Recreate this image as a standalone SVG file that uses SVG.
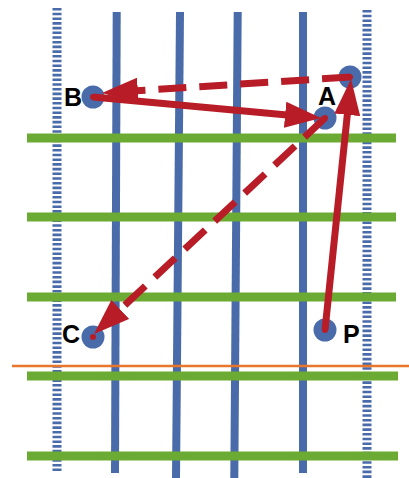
<svg xmlns="http://www.w3.org/2000/svg" width="409" height="478" viewBox="0 0 409 478">
<style>
.bl{stroke:#4A6BAA;stroke-width:8;fill:none}
.dot{stroke:#4A6BAA;stroke-width:9;stroke-dasharray:2.6 2.1;fill:none}
.gr{stroke:#6BAA33;stroke-width:9;fill:none}
.or{stroke:#E8762B;stroke-width:2.5;fill:none}
.nd{fill:#4A6BAA}
.cd{fill:#B81C26}
.ar{stroke:#B81C26;stroke-width:7;fill:none;marker-end:url(#ah)}
.da{stroke-dasharray:28 13}
.lb{font-family:"Liberation Sans",Arial,sans-serif;font-weight:bold;font-size:25px;fill:#000}
</style>
<defs>
<marker id="ah" markerUnits="userSpaceOnUse" viewBox="0 0 36 26" markerWidth="36" markerHeight="26" refX="2" refY="13" orient="auto">
<path d="M0,0 L36,13 L0,26 z" fill="#B81C26"/>
</marker>
</defs>
<g id="grid">
<line class="dot" x1="57" y1="8" x2="57" y2="471"/>
<line class="dot" x1="367" y1="10" x2="367" y2="478"/>
<line class="bl" x1="116.7" y1="12" x2="115" y2="473"/>
<line class="bl" x1="180" y1="12" x2="176" y2="478"/>
<line class="bl" x1="237.7" y1="12" x2="234.3" y2="478"/>
<line class="bl" x1="303" y1="12" x2="303" y2="473"/>
<line class="gr" x1="27" y1="138" x2="396" y2="138"/>
<line class="gr" x1="27" y1="217" x2="396" y2="217"/>
<line class="gr" x1="27" y1="297" x2="396" y2="297"/>
<line class="gr" x1="27" y1="376" x2="398" y2="376"/>
<line class="gr" x1="27" y1="456" x2="398" y2="456"/>
<line class="or" x1="12" y1="366" x2="409" y2="366"/>
</g>
<g id="node-B"><circle class="nd" cx="93" cy="97" r="11.5"/><circle class="cd" cx="93" cy="97" r="3"/><text class="lb" x="64" y="106">B</text></g>
<g id="node-A"><circle class="nd" cx="325" cy="118" r="11.5"/><circle class="cd" cx="325" cy="118" r="3"/><text class="lb" x="318" y="105">A</text></g>
<g id="node-T"><circle class="nd" cx="350" cy="77" r="11.5"/><circle class="cd" cx="350" cy="77" r="3"/></g>
<g id="node-C"><circle class="nd" cx="93" cy="337" r="11.5"/><circle class="cd" cx="93" cy="337" r="3"/><text class="lb" x="62" y="343">C</text></g>
<g id="node-P"><circle class="nd" cx="325" cy="330" r="11.5"/><circle class="cd" cx="325" cy="330" r="3"/><text class="lb" x="343" y="343">P</text></g>
<g id="connectors">
<line class="ar da" x1="350" y1="77" x2="135.9" y2="90.8"/>
<line class="ar" x1="93" y1="97" x2="287.1" y2="114.9"/>
<line class="ar" x1="325" y1="330" x2="347.5" y2="112.8"/>
<line class="ar da" x1="325" y1="118" x2="118.8" y2="310.8"/>
</g>
</svg>
